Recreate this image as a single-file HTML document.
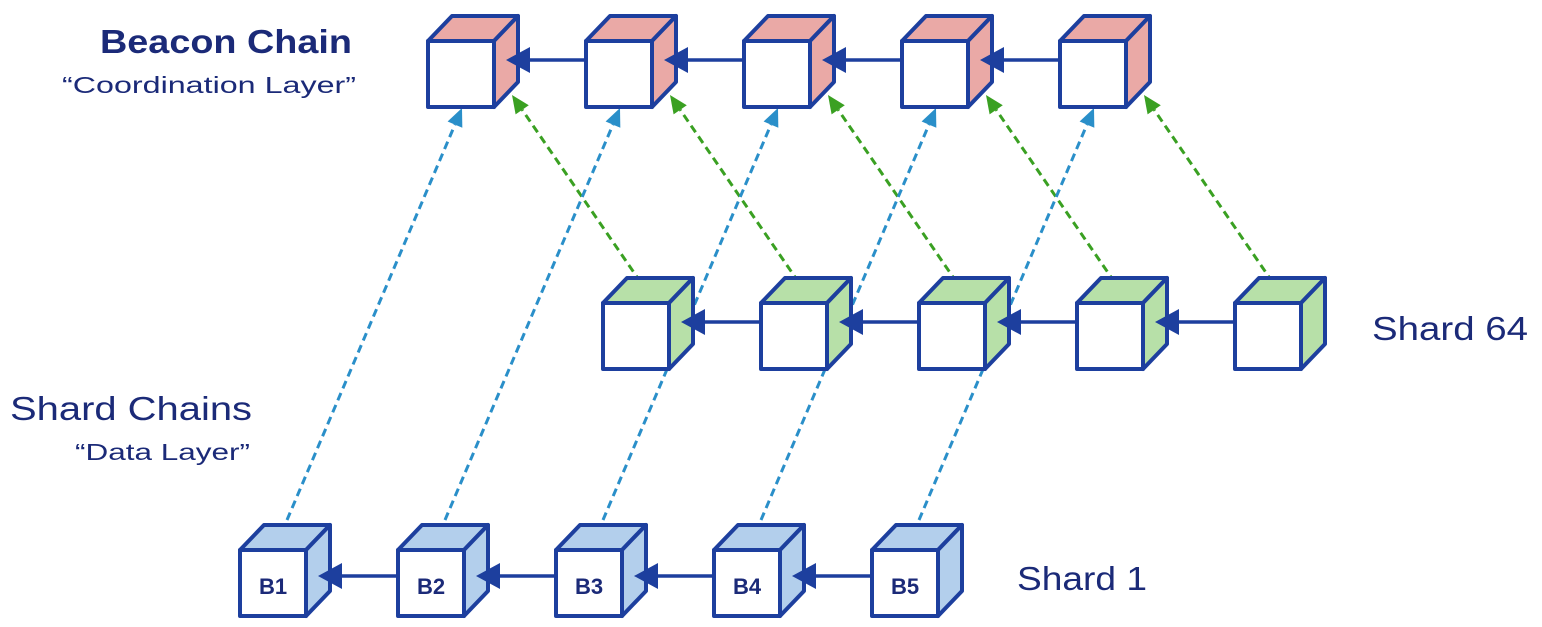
<!DOCTYPE html>
<html><head><style>
html,body{margin:0;padding:0;background:#fff;}
svg{display:block}
text{font-family:"Liberation Sans",sans-serif;fill:#1b2a78;}
</style></head><body>
<svg id="s" width="1542" height="627" viewBox="0 0 1542 627">
<text x="100" y="53" font-size="33" font-weight="bold" textLength="252" lengthAdjust="spacingAndGlyphs">Beacon Chain</text>
<text x="62" y="93" font-size="23" textLength="294" lengthAdjust="spacingAndGlyphs">“Coordination Layer”</text>
<text x="10" y="420" font-size="33" textLength="242" lengthAdjust="spacingAndGlyphs">Shard Chains</text>
<text x="75" y="460" font-size="23" textLength="175" lengthAdjust="spacingAndGlyphs">“Data Layer”</text>
<text x="1372" y="340" font-size="33" textLength="156" lengthAdjust="spacingAndGlyphs">Shard 64</text>
<text x="1017" y="590" font-size="33" textLength="130" lengthAdjust="spacingAndGlyphs">Shard 1</text>
<g id="g"></g>
<g id="t">
<text x="273" y="594" font-size="22" font-weight="bold" text-anchor="middle">B1</text>
<text x="431" y="594" font-size="22" font-weight="bold" text-anchor="middle">B2</text>
<text x="589" y="594" font-size="22" font-weight="bold" text-anchor="middle">B3</text>
<text x="747" y="594" font-size="22" font-weight="bold" text-anchor="middle">B4</text>
<text x="905" y="594" font-size="22" font-weight="bold" text-anchor="middle">B5</text>
</g>
</svg>
<script>
var g=document.getElementById('g'),h='';
var S='#1d3f9e';
function cube(x,y,c){
 h+=`<polygon points="${x},${y} ${x+24},${y-25} ${x+90},${y-25} ${x+66},${y}" fill="${c}" stroke="${S}" stroke-width="4" stroke-linejoin="round"/>`;
 h+=`<polygon points="${x+66},${y} ${x+90},${y-25} ${x+90},${y+41} ${x+66},${y+66}" fill="${c}" stroke="${S}" stroke-width="4" stroke-linejoin="round"/>`;
 h+=`<rect x="${x}" y="${y}" width="66" height="66" fill="#fff" stroke="${S}" stroke-width="4" stroke-linejoin="round"/>`;
}
function arrow(x1,y1,x2,y2,col,dash,L,W){
 var dx=x2-x1,dy=y2-y1,d=Math.hypot(dx,dy),ux=dx/d,uy=dy/d;
 var bx=x2-ux*L,by=y2-uy*L;
 h+=`<line x1="${x1}" y1="${y1}" x2="${bx}" y2="${by}" stroke="${col}" stroke-width="${dash?3:3.5}" ${dash?'stroke-dasharray="8,5"':''}/>`;
 h+=`<polygon points="${x2},${y2} ${bx-uy*W},${by+ux*W} ${bx+uy*W},${by-ux*W}" fill="${col}"/>`;
}
var B=[428,586,744,902,1060],M=[603,761,919,1077,1235],D=[240,398,556,714,872];
for(var i=0;i<5;i++){
 arrow(D[i]+47,550-30,B[i]+34,108,'#2a8fc9',true,18,8);
 arrow(M[i]+45,303-10,B[i]+84,95,'#3aa022',true,18,8);
}
var lines=h;h='';
for(var i=0;i<5;i++){cube(B[i],41,'#eaa9a6');cube(M[i],303,'#b7e0a8');cube(D[i],550,'#b3cfec');}
for(var i=0;i<4;i++){
 arrow(B[i+1],60,B[i]+78,60,S,false,24,13);
 arrow(M[i+1],322,M[i]+78,322,S,false,24,13);
 arrow(D[i+1],576,D[i]+78,576,S,false,24,13);
}
g.innerHTML=lines+h;
</script>
</body></html>
